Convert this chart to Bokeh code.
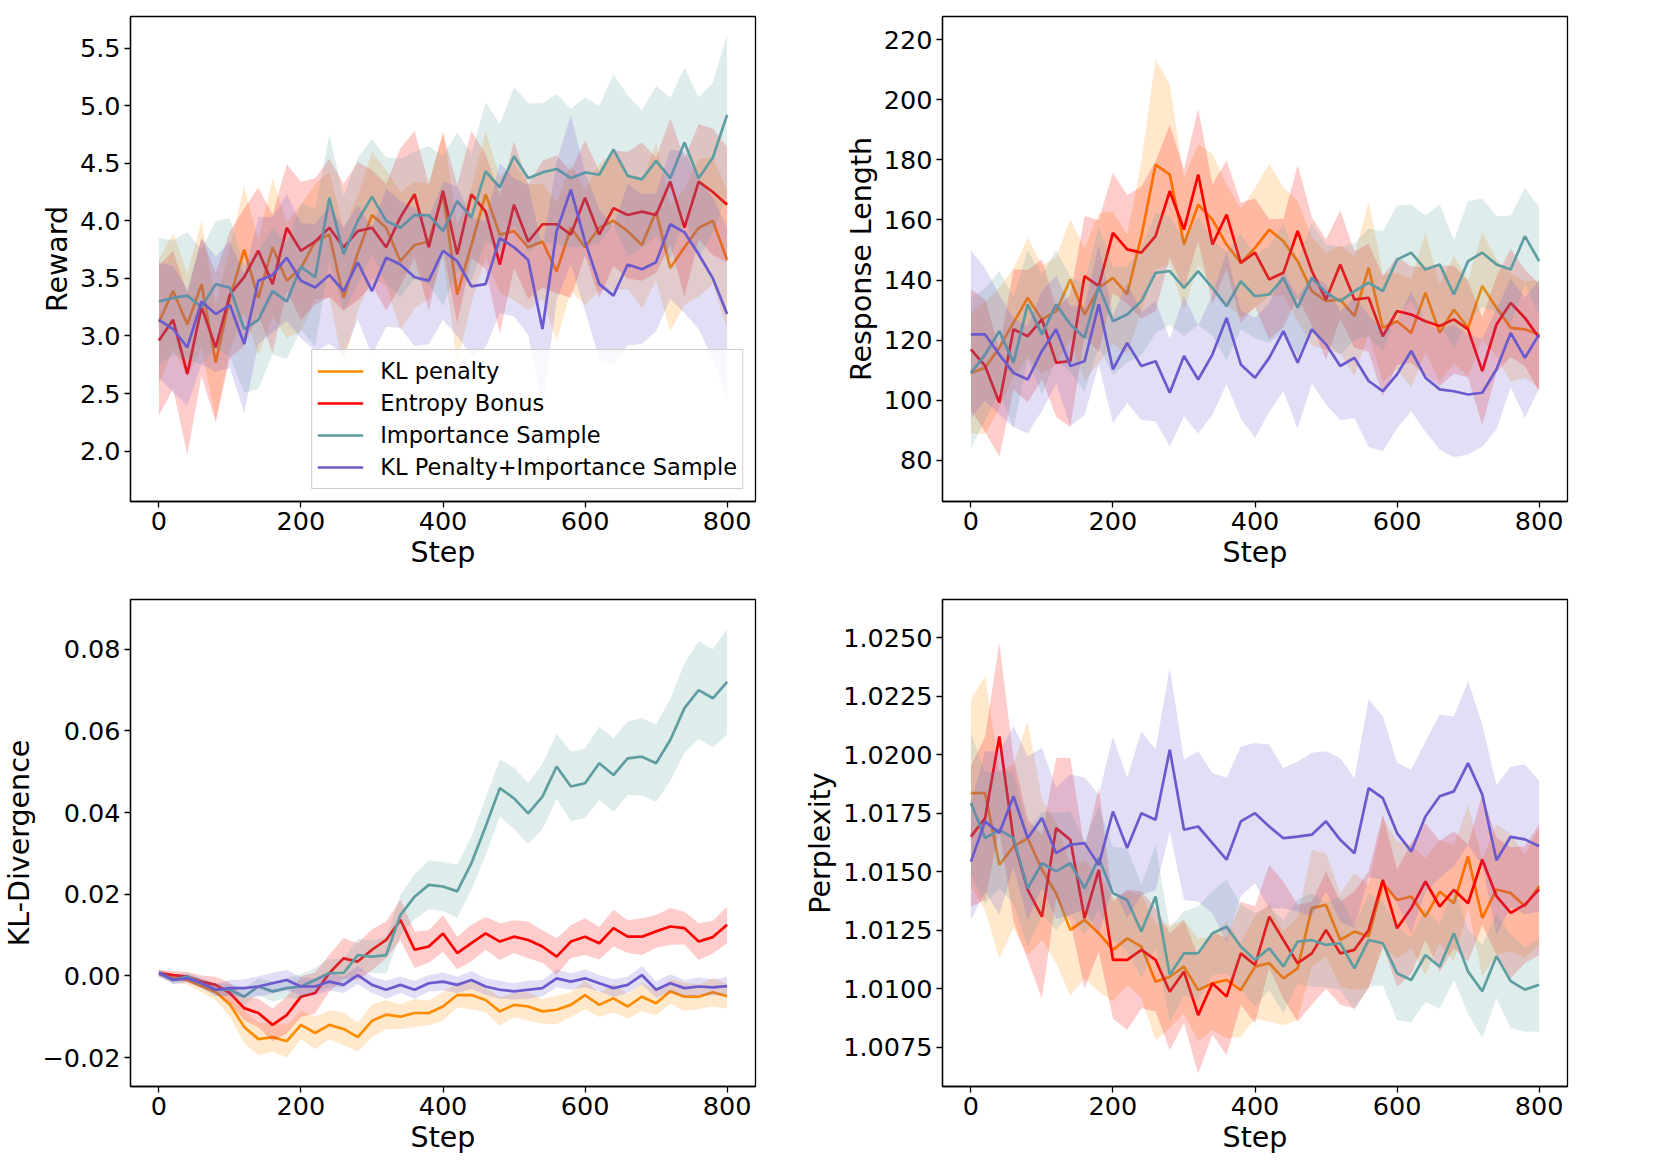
import numpy as np
from bokeh.plotting import figure
from bokeh.layouts import column, row
from bokeh.models import FixedTicker, Legend, LegendItem
from bokeh.embed import file_html
from bokeh.resources import INLINE

FONT = "DejaVu Sans"

steps = list(range(0, 801, 20))
series_names = ["KL penalty", "Entropy Bonus", "Importance Sample", "KL Penalty+Importance Sample"]
colors = ["#FF8C00", "#FF0000", "#5F9EA0", "#6A5ACD"]
x_ticks = [0, 200, 400, 600, 800]

# ---------------- Reward ----------------
rw_kl = [3.12, 3.39, 3.10, 3.45, 2.77, 3.33, 3.75, 3.33, 3.77, 3.48, 3.59, 3.82, 3.88, 3.33, 3.72, 4.05, 3.94, 3.65, 3.79, 3.82, 4.23, 3.36, 3.79, 4.23, 3.88, 3.91, 3.77, 3.82, 3.56, 3.94, 3.77, 3.94, 4.00, 3.91, 3.79, 4.08, 3.59, 3.77, 3.94, 4.00, 3.66]
rw_eb = [2.96, 3.14, 2.67, 3.25, 2.90, 3.36, 3.51, 3.74, 3.45, 3.94, 3.74, 3.82, 3.94, 3.77, 3.91, 3.94, 3.77, 4.03, 4.23, 3.77, 4.26, 3.71, 4.23, 4.08, 3.62, 4.14, 3.82, 3.97, 3.97, 3.88, 4.20, 3.88, 4.11, 4.05, 4.08, 4.05, 4.34, 3.94, 4.34, 4.25, 4.14]
rw_is = [3.30, 3.33, 3.35, 3.25, 3.45, 3.42, 3.06, 3.14, 3.39, 3.30, 3.60, 3.51, 4.20, 3.71, 4.00, 4.21, 4.00, 3.94, 4.05, 4.05, 3.91, 4.17, 4.03, 4.43, 4.29, 4.56, 4.37, 4.42, 4.45, 4.37, 4.42, 4.40, 4.62, 4.39, 4.36, 4.52, 4.37, 4.68, 4.37, 4.55, 4.92]
rw_kis = [3.14, 3.06, 2.90, 3.30, 3.19, 3.27, 2.93, 3.48, 3.53, 3.68, 3.48, 3.42, 3.53, 3.39, 3.64, 3.39, 3.68, 3.62, 3.51, 3.48, 3.74, 3.65, 3.43, 3.45, 3.85, 3.77, 3.66, 3.06, 3.91, 4.27, 3.82, 3.45, 3.35, 3.62, 3.58, 3.64, 3.97, 3.90, 3.71, 3.50, 3.19]
rw_kl_sd = [0.55, 0.50, 0.45, 0.55, 0.50, 0.45, 0.55, 0.50, 0.60, 0.50, 0.55, 0.50, 0.55, 0.60, 0.50, 0.55, 0.50, 0.60, 0.55, 0.50, 0.55, 0.60, 0.50, 0.55, 0.50, 0.60, 0.55, 0.50, 0.60, 0.55, 0.50, 0.55, 0.60, 0.50, 0.55, 0.60, 0.55, 0.50, 0.60, 0.55, 0.60]
rw_eb_sd = [0.65, 0.60, 0.70, 0.60, 0.65, 0.55, 0.60, 0.55, 0.60, 0.55, 0.60, 0.55, 0.60, 0.55, 0.60, 0.50, 0.55, 0.60, 0.55, 0.55, 0.50, 0.60, 0.55, 0.50, 0.60, 0.55, 0.50, 0.55, 0.60, 0.55, 0.50, 0.55, 0.50, 0.55, 0.60, 0.50, 0.55, 0.60, 0.50, 0.55, 0.50]
rw_is_sd = [0.55, 0.50, 0.55, 0.50, 0.55, 0.60, 0.55, 0.60, 0.55, 0.50, 0.55, 0.60, 0.55, 0.50, 0.55, 0.50, 0.55, 0.60, 0.55, 0.60, 0.65, 0.60, 0.55, 0.60, 0.55, 0.60, 0.65, 0.60, 0.65, 0.60, 0.65, 0.60, 0.65, 0.70, 0.60, 0.65, 0.70, 0.65, 0.70, 0.65, 0.70]
rw_kis_sd = [0.50, 0.55, 0.50, 0.55, 0.50, 0.55, 0.60, 0.55, 0.50, 0.55, 0.50, 0.55, 0.60, 0.55, 0.50, 0.55, 0.60, 0.55, 0.60, 0.55, 0.60, 0.65, 0.60, 0.55, 0.65, 0.60, 0.65, 0.70, 0.60, 0.65, 0.60, 0.65, 0.60, 0.70, 0.65, 0.60, 0.65, 0.70, 0.65, 0.70, 0.75]
rw_yticks = [2.0, 2.5, 3.0, 3.5, 4.0, 4.5, 5.0, 5.5]
rw_ylabels = ["2.0", "2.5", "3.0", "3.5", "4.0", "4.5", "5.0", "5.5"]

# ---------------- Response Length ----------------
rl_kl = [109.1, 110.8, 117.5, 125.8, 134.1, 126.9, 129.7, 140.2, 128.5, 137.4, 140.7, 135.2, 154.6, 178.4, 175.1, 151.8, 165.1, 160.1, 151.8, 145.7, 150.7, 156.8, 152.9, 146.3, 136.3, 133.0, 133.5, 128.0, 144.1, 124.1, 126.3, 122.4, 135.8, 122.4, 130.2, 124.1, 138.0, 130.8, 124.1, 123.6, 121.9]
rl_eb = [116.9, 111.4, 99.2, 123.6, 121.3, 126.9, 112.5, 113.0, 141.3, 138.0, 155.7, 150.2, 149.1, 154.6, 169.6, 156.8, 175.1, 151.8, 161.8, 145.7, 149.1, 140.2, 142.4, 156.3, 143.0, 133.5, 145.2, 133.5, 134.1, 121.3, 129.7, 128.5, 126.3, 124.7, 126.9, 123.6, 109.7, 125.2, 132.4, 127.4, 120.8]
rl_is = [109.1, 115.2, 123.0, 112.5, 131.9, 121.9, 131.9, 125.2, 120.8, 138.0, 126.3, 128.5, 133.0, 142.4, 143.0, 137.4, 143.0, 137.4, 131.3, 139.6, 134.6, 135.2, 140.7, 130.8, 140.7, 135.8, 133.0, 136.3, 139.1, 136.3, 146.8, 149.1, 143.5, 145.2, 135.2, 146.3, 149.1, 145.2, 143.5, 154.6, 146.3]
rl_kis = [121.9, 121.9, 115.2, 109.1, 106.9, 116.4, 123.6, 111.4, 113.0, 131.9, 110.3, 119.1, 111.4, 113.0, 102.5, 114.7, 106.9, 115.2, 127.4, 111.9, 107.5, 114.1, 123.0, 112.5, 123.6, 118.6, 111.4, 114.1, 106.4, 103.0, 108.6, 116.4, 107.5, 103.6, 103.0, 101.9, 102.5, 110.3, 122.4, 114.1, 121.9]
rl_kl_sd = [20, 22, 20, 18, 20, 18, 18, 20, 22, 25, 22, 20, 25, 35, 30, 22, 20, 22, 20, 18, 20, 22, 18, 20, 18, 16, 18, 20, 22, 18, 16, 18, 20, 16, 18, 16, 18, 16, 18, 16, 18]
rl_eb_sd = [20, 22, 18, 20, 22, 20, 18, 22, 20, 22, 20, 18, 22, 25, 22, 20, 22, 20, 18, 20, 18, 20, 18, 22, 18, 20, 18, 16, 18, 20, 18, 16, 18, 20, 18, 16, 18, 16, 18, 16, 18]
rl_is_sd = [25, 22, 20, 22, 18, 20, 18, 16, 18, 20, 18, 16, 18, 20, 18, 16, 18, 16, 18, 16, 14, 16, 18, 16, 18, 16, 18, 16, 18, 20, 18, 16, 18, 20, 18, 20, 18, 16, 18, 16, 18]
rl_kis_sd = [28, 22, 20, 18, 18, 20, 18, 20, 18, 20, 18, 20, 18, 20, 18, 20, 18, 20, 22, 18, 20, 18, 20, 22, 18, 20, 18, 20, 22, 20, 18, 20, 18, 20, 22, 20, 18, 20, 18, 20, 18]
rl_yticks = [80, 100, 120, 140, 160, 180, 200, 220]
rl_ylabels = ["80", "100", "120", "140", "160", "180", "200", "220"]

# ---------------- KL-Divergence ----------------
kl_kl = [0.0005, -0.0005, -0.001, -0.0025, -0.004, -0.007, -0.0125, -0.0155, -0.015, -0.016, -0.012, -0.014, -0.012, -0.013, -0.015, -0.011, -0.0095, -0.010, -0.0091, -0.0091, -0.0075, -0.0047, -0.0047, -0.0059, -0.0087, -0.0071, -0.0075, -0.0087, -0.0083, -0.0071, -0.0047, -0.0071, -0.0055, -0.0075, -0.0051, -0.0067, -0.0038, -0.0051, -0.0051, -0.004, -0.005]
kl_eb = [0.0007, 0.0002, -0.0002, -0.0014, -0.0022, -0.0042, -0.0079, -0.0091, -0.012, -0.0096, -0.0051, -0.0042, 0.0007, 0.0043, 0.0035, 0.0064, 0.0088, 0.0137, 0.0064, 0.0072, 0.0104, 0.0056, 0.0080, 0.0104, 0.0084, 0.0096, 0.0088, 0.0072, 0.0047, 0.0084, 0.0096, 0.0080, 0.0117, 0.0096, 0.0096, 0.0109, 0.0121, 0.0117, 0.0084, 0.0095, 0.0125]
kl_is = [0.0007, -0.001, -0.0002, -0.0018, -0.0034, -0.0034, -0.0051, -0.0026, -0.0038, -0.003, -0.0026, -0.001, 0.0007, 0.0007, 0.0051, 0.0047, 0.0051, 0.0149, 0.0194, 0.0223, 0.0219, 0.0207, 0.0276, 0.0366, 0.0460, 0.0435, 0.0398, 0.0439, 0.0513, 0.0464, 0.0472, 0.0521, 0.0492, 0.0533, 0.0537, 0.0521, 0.0578, 0.0656, 0.0700, 0.0680, 0.0720]
kl_kis = [0.0007, -0.001, -0.0006, -0.0018, -0.0034, -0.003, -0.003, -0.0026, -0.0018, -0.001, -0.0026, -0.0026, -0.0014, -0.0022, 0.0002, -0.0022, -0.0034, -0.0022, -0.0034, -0.0018, -0.0014, -0.0022, -0.001, -0.0026, -0.0034, -0.0038, -0.0034, -0.003, -0.0006, -0.0014, -0.0006, -0.0018, -0.003, -0.0022, 0.0002, -0.0034, -0.0018, -0.003, -0.0026, -0.0028, -0.0025]
kl_kl_sd = [0.0008, 0.001, 0.0012, 0.0015, 0.002, 0.003, 0.004, 0.004, 0.0035, 0.004, 0.0035, 0.004, 0.0035, 0.004, 0.0035, 0.004, 0.0035, 0.003, 0.0035, 0.003, 0.0035, 0.003, 0.0035, 0.003, 0.0035, 0.003, 0.0035, 0.003, 0.0035, 0.003, 0.0035, 0.003, 0.0035, 0.003, 0.0035, 0.003, 0.003, 0.0035, 0.003, 0.0035, 0.003]
kl_eb_sd = [0.0008, 0.001, 0.0012, 0.0015, 0.002, 0.0025, 0.003, 0.0035, 0.004, 0.0045, 0.005, 0.005, 0.0045, 0.005, 0.0045, 0.005, 0.0045, 0.005, 0.0045, 0.004, 0.0045, 0.004, 0.0045, 0.004, 0.0045, 0.004, 0.0045, 0.004, 0.0045, 0.004, 0.0045, 0.004, 0.0045, 0.004, 0.0045, 0.004, 0.0045, 0.004, 0.0045, 0.004, 0.0045]
kl_is_sd = [0.0008, 0.001, 0.001, 0.0012, 0.0015, 0.0015, 0.002, 0.002, 0.0025, 0.0025, 0.003, 0.003, 0.0035, 0.0035, 0.004, 0.004, 0.0045, 0.005, 0.0055, 0.006, 0.006, 0.0065, 0.0065, 0.007, 0.007, 0.0075, 0.0075, 0.008, 0.008, 0.0085, 0.0085, 0.009, 0.009, 0.009, 0.0095, 0.0095, 0.01, 0.011, 0.012, 0.012, 0.013]
kl_kis_sd = [0.0008, 0.001, 0.001, 0.0012, 0.0015, 0.002, 0.0022, 0.0025, 0.0025, 0.0025, 0.0022, 0.002, 0.0022, 0.002, 0.0022, 0.002, 0.0022, 0.002, 0.0022, 0.002, 0.0022, 0.002, 0.0022, 0.002, 0.0022, 0.002, 0.0022, 0.002, 0.0022, 0.002, 0.0022, 0.002, 0.0022, 0.002, 0.0022, 0.002, 0.0022, 0.002, 0.0022, 0.002, 0.0022]
kl_yticks = [-0.02, 0.0, 0.02, 0.04, 0.06, 0.08]
kl_ylabels = ["\u22120.02", "0.00", "0.02", "0.04", "0.06", "0.08"]

# ---------------- Perplexity ----------------
px_kl = [1.01837, 1.01837, 1.01530, 1.01609, 1.01644, 1.01509, 1.01409, 1.01252, 1.01295, 1.01238, 1.01167, 1.01216, 1.01181, 1.01031, 1.01052, 1.01095, 1.00995, 1.01024, 1.01038, 1.00995, 1.01095, 1.01110, 1.01045, 1.01088, 1.01345, 1.01359, 1.01209, 1.01245, 1.01224, 1.01452, 1.01380, 1.01395, 1.01309, 1.01416, 1.01366, 1.01566, 1.01303, 1.01425, 1.01410, 1.01353, 1.01439]
px_eb = [1.01651, 1.01730, 1.02079, 1.01637, 1.01423, 1.01309, 1.01687, 1.01637, 1.01302, 1.01509, 1.01124, 1.01124, 1.01167, 1.01124, 1.00988, 1.01074, 1.00888, 1.01024, 1.00967, 1.01152, 1.01102, 1.01309, 1.01209, 1.01110, 1.01152, 1.01252, 1.01152, 1.01167, 1.01252, 1.01466, 1.01259, 1.01345, 1.01459, 1.01352, 1.01423, 1.01366, 1.01553, 1.01396, 1.01325, 1.01360, 1.01425]
px_is = [1.01794, 1.01644, 1.01680, 1.01644, 1.01430, 1.01537, 1.01502, 1.01537, 1.01430, 1.01559, 1.01409, 1.01380, 1.01245, 1.01395, 1.01060, 1.01152, 1.01152, 1.01238, 1.01266, 1.01181, 1.01124, 1.01174, 1.01095, 1.01202, 1.01209, 1.01188, 1.01195, 1.01088, 1.01209, 1.01195, 1.01067, 1.01038, 1.01145, 1.01095, 1.01238, 1.01074, 1.00990, 1.01140, 1.01033, 1.00997, 1.01018]
px_kis = [1.01544, 1.01716, 1.01666, 1.01823, 1.01644, 1.01730, 1.01580, 1.01616, 1.01623, 1.01530, 1.01758, 1.01602, 1.01751, 1.01723, 1.02022, 1.01680, 1.01694, 1.01623, 1.01552, 1.01716, 1.01751, 1.01694, 1.01644, 1.01651, 1.01659, 1.01716, 1.01637, 1.01580, 1.01858, 1.01815, 1.01666, 1.01587, 1.01737, 1.01823, 1.01844, 1.01965, 1.01831, 1.01550, 1.01650, 1.01639, 1.01610]
px_kl_sd = [0.004, 0.005, 0.004, 0.0035, 0.005, 0.003, 0.003, 0.0028, 0.0025, 0.0025, 0.0022, 0.002, 0.0022, 0.0025, 0.0022, 0.002, 0.0022, 0.002, 0.0025, 0.002, 0.0022, 0.0025, 0.002, 0.0022, 0.0025, 0.0022, 0.002, 0.0025, 0.0022, 0.0028, 0.0025, 0.0022, 0.0025, 0.0022, 0.0025, 0.0022, 0.0025, 0.0028, 0.0025, 0.0022, 0.0025]
px_eb_sd = [0.003, 0.0035, 0.004, 0.0035, 0.003, 0.0035, 0.003, 0.0035, 0.003, 0.0035, 0.0025, 0.003, 0.0025, 0.0022, 0.0025, 0.0022, 0.0025, 0.0022, 0.0025, 0.0022, 0.0025, 0.0022, 0.0025, 0.0025, 0.0022, 0.0025, 0.0022, 0.0025, 0.0025, 0.0028, 0.0025, 0.0028, 0.0025, 0.0028, 0.0025, 0.0025, 0.0028, 0.0025, 0.0028, 0.0025, 0.0028]
px_is_sd = [0.003, 0.0028, 0.0025, 0.0028, 0.0025, 0.0022, 0.0025, 0.0022, 0.002, 0.0022, 0.002, 0.0022, 0.002, 0.0022, 0.002, 0.0018, 0.002, 0.0018, 0.002, 0.0018, 0.002, 0.0018, 0.002, 0.0018, 0.002, 0.0018, 0.002, 0.0018, 0.002, 0.0018, 0.002, 0.0018, 0.002, 0.0018, 0.002, 0.0018, 0.002, 0.0018, 0.002, 0.0018, 0.002]
px_kis_sd = [0.0025, 0.003, 0.0035, 0.003, 0.0035, 0.003, 0.0028, 0.003, 0.0028, 0.003, 0.0032, 0.003, 0.0035, 0.003, 0.0035, 0.003, 0.0032, 0.003, 0.0035, 0.0032, 0.003, 0.0035, 0.003, 0.0032, 0.0035, 0.003, 0.0035, 0.0032, 0.0038, 0.0035, 0.003, 0.0035, 0.0032, 0.0035, 0.0032, 0.0035, 0.003, 0.0032, 0.003, 0.0032, 0.0028]
px_yticks = [1.0075, 1.0100, 1.0125, 1.0150, 1.0175, 1.0200, 1.0225, 1.0250]
px_ylabels = ["1.0075", "1.0100", "1.0125", "1.0150", "1.0175", "1.0200", "1.0225", "1.0250"]


def make_panel(values, spreads, y_range, yticks, ylabels, ylabel,
               width, height, bl, br, bt, bb, legend=False):
    p = figure(width=width, height=height, x_range=(-40, 840), y_range=y_range,
               output_backend="svg", toolbar_location=None,
               min_border_left=bl, min_border_right=br,
               min_border_top=bt, min_border_bottom=bb,
               background_fill_color="white", border_fill_color="white")
    lines = []
    for v, s, c in zip(values, spreads, colors):
        v = np.asarray(v, dtype=float)
        s = np.asarray(s, dtype=float)
        p.varea(x=steps, y1=v - s, y2=v + s, fill_color=c, fill_alpha=0.2)
        r = p.line(x=steps, y=v, line_color=c, line_width=2.7)
        lines.append(r)
    p.xaxis.ticker = FixedTicker(ticks=x_ticks)
    p.yaxis.ticker = FixedTicker(ticks=yticks)
    p.yaxis.major_label_overrides = {t: l for t, l in zip(yticks, ylabels)}
    p.xaxis.axis_label = "Step"
    p.yaxis.axis_label = ylabel
    for ax in (p.xaxis[0], p.yaxis[0]):
        ax.axis_label_text_font = FONT
        ax.axis_label_text_font_size = "28.5px"
        ax.axis_label_text_font_style = "normal"
        ax.axis_label_text_color = "black"
        ax.major_label_text_font = FONT
        ax.major_label_text_font_size = "25.5px"
        ax.major_label_text_color = "black"
        ax.major_tick_in = 0
        ax.major_tick_out = 6
        ax.minor_tick_in = 0
        ax.minor_tick_out = 0
        ax.major_tick_line_color = "black"
        ax.major_tick_line_width = 1.3
        ax.axis_line_color = "black"
        ax.axis_line_width = 1.3
        ax.major_label_standoff = 4
        ax.axis_label_standoff = 3
    p.xgrid.visible = False
    p.ygrid.visible = False
    p.outline_line_color = "black"
    p.outline_line_width = 1.3
    p.outline_line_alpha = 1.0
    if legend:
        items = [LegendItem(label=n, renderers=[r]) for n, r in zip(series_names, lines)]
        leg = Legend(items=items, location="bottom_right")
        leg.margin = 12
        leg.padding = 5
        leg.spacing = 0
        leg.glyph_width = 46
        leg.glyph_height = 32
        leg.label_height = 32
        leg.label_standoff = 17
        leg.label_text_font = FONT
        leg.label_text_font_size = "22.5px"
        leg.label_text_color = "black"
        leg.border_line_color = "#cccccc"
        leg.border_line_width = 1.3
        leg.border_line_alpha = 1.0
        leg.background_fill_color = "white"
        leg.background_fill_alpha = 0.8
        p.add_layout(leg)
    return p


p1 = make_panel([rw_kl, rw_eb, rw_is, rw_kis], [rw_kl_sd, rw_eb_sd, rw_is_sd, rw_kis_sd],
                (1.5625, 5.774), rw_yticks, rw_ylabels, "Reward",
                806, 591, 130, 51, 16, 90, legend=True)
p2 = make_panel([rl_kl, rl_eb, rl_is, rl_kis], [rl_kl_sd, rl_eb_sd, rl_is_sd, rl_kis_sd],
                (66.3, 227.7), rl_yticks, rl_ylabels, "Response Length",
                781, 591, 136, 20, 16, 90)
p3 = make_panel([kl_kl, kl_eb, kl_is, kl_kis], [kl_kl_sd, kl_eb_sd, kl_is_sd, kl_kis_sd],
                (-0.0271, 0.0922), kl_yticks, kl_ylabels, "KL-Divergence",
                800, 569, 130, 45, 8, 74)
p4 = make_panel([px_kl, px_eb, px_is, px_kis], [px_kl_sd, px_eb_sd, px_is_sd, px_kis_sd],
                (1.00583, 1.02664), px_yticks, px_ylabels, "Perplexity",
                787, 569, 142, 20, 8, 74)

layout = column(row(p1, p2, spacing=0), row(p3, p4, spacing=0), spacing=0)

with open("out.html", "w") as f:
    f.write(file_html(layout, INLINE))
